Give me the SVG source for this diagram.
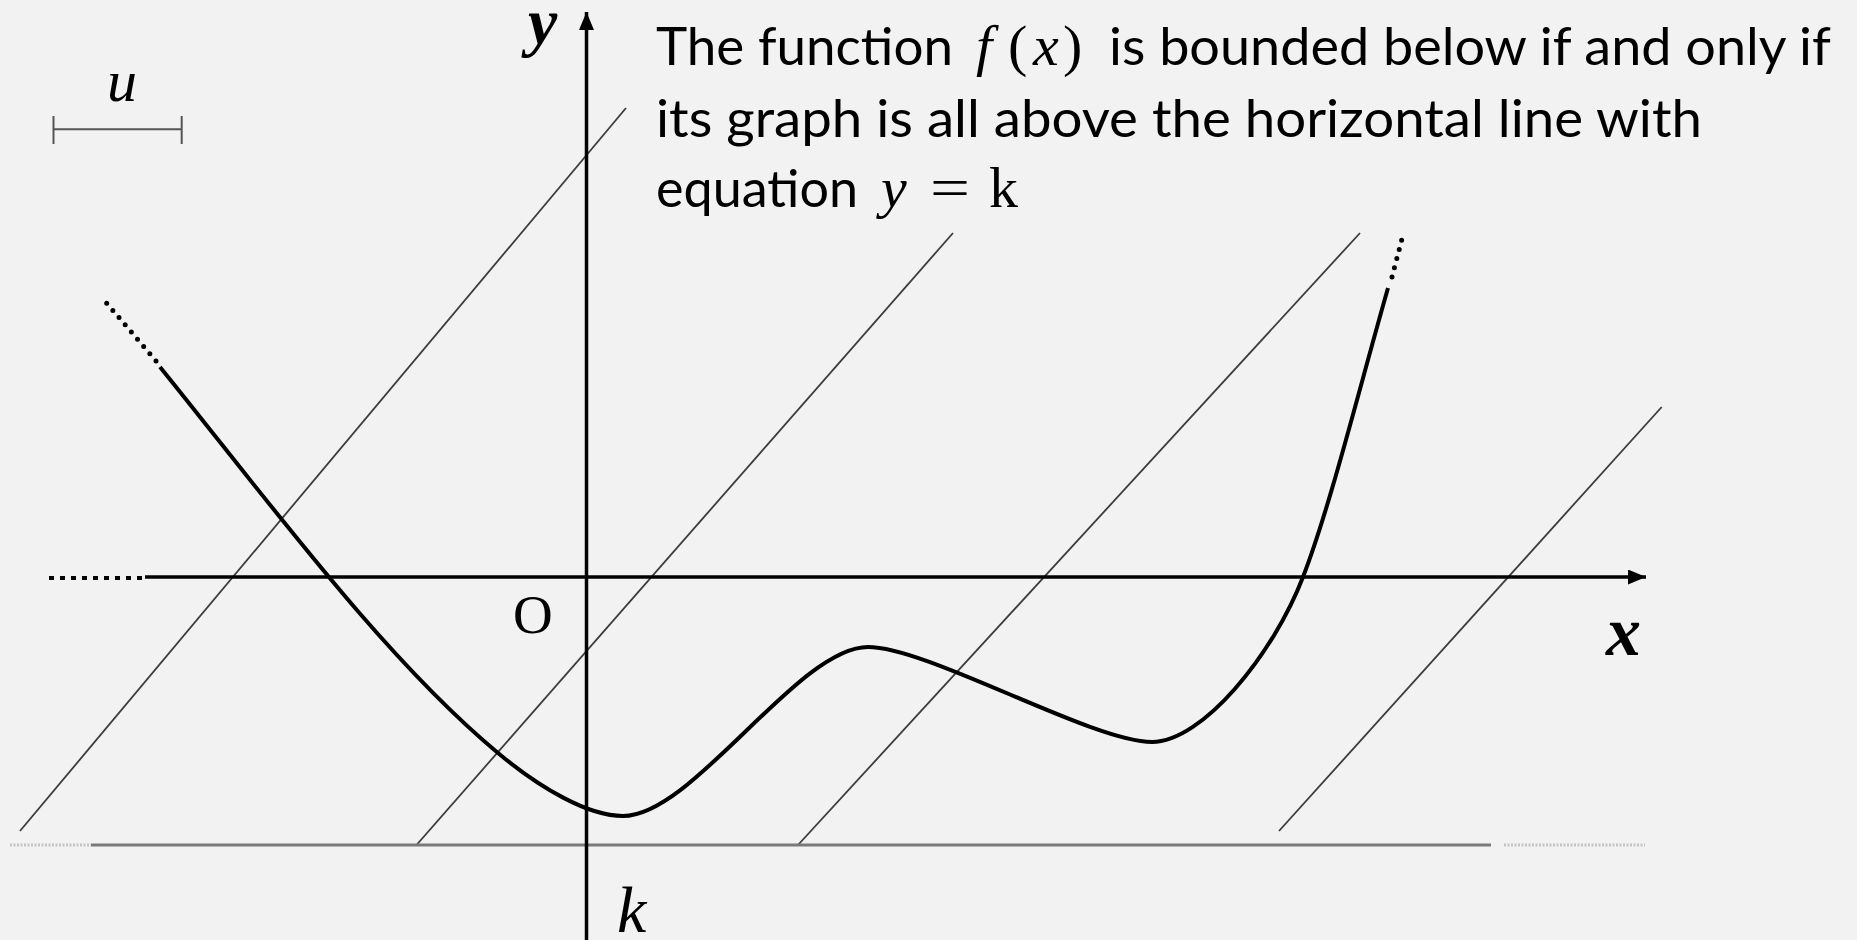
<svg xmlns="http://www.w3.org/2000/svg" width="1857" height="940" viewBox="0 0 1857 940">
  <defs>
    <style>
      .bg { fill: #f2f2f2; }
      .axis { stroke: #000; stroke-width: 3.5; fill: none; }
      .diag { stroke: #3c3c3c; stroke-width: 1.8; fill: none; }
      .curve { stroke: #000; stroke-width: 4; fill: none; stroke-linecap: butt; }
      .dots { stroke: #000; stroke-width: 5; fill: none; stroke-linecap: round; stroke-dasharray: 0 9.5; }
      .kline { stroke: #7a7a7a; stroke-width: 3; fill: none; }
      .kfaint { stroke: #c4c4c4; stroke-width: 3; fill: none; stroke-dasharray: 2 1.5; }
      .body { font-family: Lato, "Noto Sans", sans-serif; font-size: 52px; fill: #000; }
      .math { font-family: "Liberation Serif", "DejaVu Serif", serif; font-size: 58px; fill: #000; }
      .lbl { font-family: "Liberation Serif", "DejaVu Serif", serif; fill: #000; }
    </style>
    <marker id="arrow" markerUnits="userSpaceOnUse" markerWidth="20" markerHeight="16" refX="18" refY="7.5" orient="auto">
      <path d="M0,0 L18,7.5 L0,15 Z" fill="#000"/>
    </marker>
  </defs>
  <rect class="bg" x="0" y="0" width="1857" height="940"/>

  <g id="unit-scale">
    <path d="M53.5,129.3 H181.7 M53.5,116 V144 M181.7,116 V144" stroke="#555" stroke-width="2" fill="none"/>
    <text class="lbl" x="107" y="101" font-size="60" font-style="italic">u</text>
  </g>

  <g id="diagonals">
    <line class="diag" x1="626" y1="108" x2="20" y2="831"/>
    <line class="diag" x1="953" y1="233" x2="416.5" y2="845"/>
    <line class="diag" x1="1360" y1="233" x2="798" y2="845"/>
    <line class="diag" x1="1661.7" y1="407" x2="1279" y2="831"/>
  </g>

  <g id="k-line">
    <line class="kfaint" x1="10" y1="845" x2="91" y2="845"/>
    <line class="kline" x1="91" y1="845" x2="1491" y2="845"/>
    <line class="kfaint" x1="1504" y1="845" x2="1645" y2="845"/>
  </g>

  <g id="axes">
    <line x1="49" y1="578" x2="145" y2="578" stroke="#000" stroke-width="4" stroke-dasharray="5 6"/>
    <line class="axis" x1="145" y1="577" x2="1646" y2="577" marker-end="url(#arrow)"/>
    <line class="axis" x1="586.5" y1="940" x2="586.5" y2="12" marker-end="url(#arrow)"/>
  </g>

  <g id="curve">
    <path class="curve" d="M160,367 C273,507 385,659 498,753 C540,788 588,816 623,816 C693,816 798,647 868,647 C928,647 1092,742 1152,742 C1202,742 1273,655 1303,577 C1330,507 1358,393 1388,288"/>
    <line class="dots" x1="156" y1="361" x2="104" y2="300"/>
    <line class="dots" x1="1392" y1="277" x2="1403" y2="235"/>
  </g>

  <g id="labels">
    <text class="lbl" x="528" y="44" font-size="66" font-style="italic" font-weight="bold">y</text>
    <text class="lbl" x="1606" y="655" font-size="70" font-style="italic" font-weight="bold">x</text>
    <text class="lbl" x="513" y="633" font-size="55">O</text>
    <text class="lbl" x="617" y="932" font-size="66" font-style="italic">k</text>
  </g>

  <g id="caption">
    <text class="body" x="656" y="65" textLength="297" lengthAdjust="spacingAndGlyphs">The function</text>
    <text class="math" x="976" y="65" font-style="italic">f</text>
    <text class="math" x="1008" y="65" font-size="60">(</text>
    <text class="math" x="1033" y="65" font-style="italic">x</text>
    <text class="math" x="1063" y="65" font-size="60">)</text>
    <text class="body" x="1109" y="65" textLength="722" lengthAdjust="spacingAndGlyphs">is bounded below if and only if</text>
    <text class="body" x="656" y="137" textLength="1046" lengthAdjust="spacingAndGlyphs">its graph is all above the horizontal line with</text>
    <text class="body" x="656" y="207" textLength="202" lengthAdjust="spacingAndGlyphs">equation</text>
    <text class="math" x="881" y="207" font-style="italic">y</text>
    <text class="math" x="930" y="207" textLength="40" lengthAdjust="spacingAndGlyphs">=</text>
    <text class="math" x="989" y="207">k</text>
  </g>
</svg>
